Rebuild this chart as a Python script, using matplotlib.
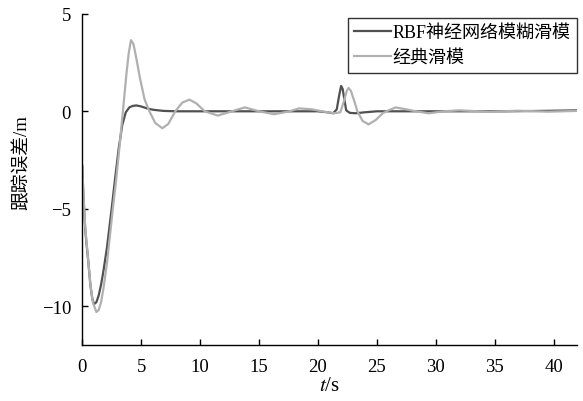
import matplotlib
matplotlib.use("Agg")
import matplotlib.pyplot as plt

plt.rcParams['font.family'] = ['Liberation Serif', 'Noto Sans CJK SC', 'DejaVu Sans']
plt.rcParams['mathtext.fontset'] = 'stix'
plt.rcParams['axes.unicode_minus'] = True

# RBF neural network fuzzy sliding mode (dark curve)
t_rbf = [0, 0.1, 0.25, 0.35, 0.5, 0.7, 0.85, 1.0, 1.2, 1.4, 1.6, 1.8, 2.1, 2.5,
         2.8, 3.1, 3.4, 3.7, 4.0, 4.3, 4.6, 5.0, 5.5, 6.0, 6.9, 8, 10, 12, 14,
         16, 18, 20, 20.8, 21.3, 21.6, 21.8, 21.97, 22.1, 22.25, 22.4, 22.7,
         23.2, 24, 25, 27, 30, 33, 36, 39, 42]
e_rbf = [-2.8, -4.3, -6.0, -6.7, -7.6, -8.95, -9.6, -9.9, -9.8, -9.45, -8.9,
         -8.2, -7.0, -5.0, -3.4, -1.9, -0.7, -0.05, 0.2, 0.28, 0.3, 0.25, 0.15,
         0.08, 0.02, 0, 0, 0, 0, 0, 0, 0, -0.05, -0.1, 0.1, 0.8, 1.3, 1.15, 0.6,
         0.05, -0.08, -0.1, -0.05, 0, 0, 0, 0, 0, 0.02, 0.05]

# classic sliding mode (light curve)
t_smc = [0, 0.1, 0.25, 0.5, 0.7, 0.9, 1.2, 1.4, 1.6, 1.8, 2.1, 2.6, 2.9, 3.2,
         3.5, 3.75, 3.95, 4.14, 4.35, 4.6, 4.9, 5.3, 5.7, 6.2, 6.8, 7.3, 7.9,
         8.5, 9.1, 9.7, 10.4, 11.5, 12.7, 13.8, 15.0, 16.3, 17.6, 18.4, 19.5,
         20.5, 21.4, 21.9, 22.2, 22.45, 22.6, 22.8, 23.1, 23.35, 23.8, 24.3,
         24.9, 25.5, 26.0, 26.6, 27.5, 28.3, 29.4, 30.7, 32, 34.5, 37, 39.5, 42]
e_smc = [-2.8, -4.2, -5.9, -7.6, -8.9, -9.8, -10.3, -10.2, -9.8, -9.1, -7.8,
         -5.0, -3.4, -1.6, 0.3, 1.9, 3.0, 3.65, 3.45, 2.7, 1.7, 0.6, 0.0, -0.6,
         -0.87, -0.65, 0.0, 0.45, 0.6, 0.4, 0.0, -0.22, 0.0, 0.2, 0.0, -0.15,
         0.0, 0.15, 0.1, -0.02, -0.1, -0.05, 0.5, 1.05, 1.2, 1.05, 0.5, 0.0,
         -0.5, -0.67, -0.45, -0.1, 0.05, 0.2, 0.1, 0.0, -0.1, 0.0, 0.05, -0.03,
         0.03, -0.02, 0.02]

fig = plt.figure(figsize=(5.83, 4.02), dpi=100)
ax = fig.add_axes([0.141, 0.139, 0.849, 0.824])

ax.plot(t_rbf, e_rbf, color='#505050', lw=1.6, label='RBF神经网络模糊滑模')
ax.plot(t_smc, e_smc, color='#b0b0b0', lw=1.6, label='经典滑模')

ax.set_xlim(0, 42)
ax.set_ylim(-12, 5)
ax.set_xticks([0, 5, 10, 15, 20, 25, 30, 35, 40])
ax.set_yticks([-10, -5, 0, 5])
ax.spines['top'].set_visible(False)
ax.spines['right'].set_visible(False)
for s in ['left', 'bottom']:
    ax.spines[s].set_linewidth(1.0)
ax.tick_params(direction='in', length=4, width=1, labelsize=13.5)
ax.tick_params(axis='x', pad=9)
ax.tick_params(axis='y', pad=8)

ax.set_xlabel('$t$/s', fontsize=15, labelpad=1)
ax.set_ylabel('跟踪误差/m', fontsize=13.5)
ax.yaxis.set_label_coords(-0.105, 0.553)

leg = ax.legend(loc='upper right', bbox_to_anchor=(1.0, 0.988), fontsize=13.0,
                frameon=True, fancybox=False, edgecolor='black',
                handlelength=2.05, handletextpad=0.1, borderpad=0.35,
                labelspacing=0.45, borderaxespad=0)
leg.get_frame().set_linewidth(1.0)

fig.savefig('out.png', dpi=100)
